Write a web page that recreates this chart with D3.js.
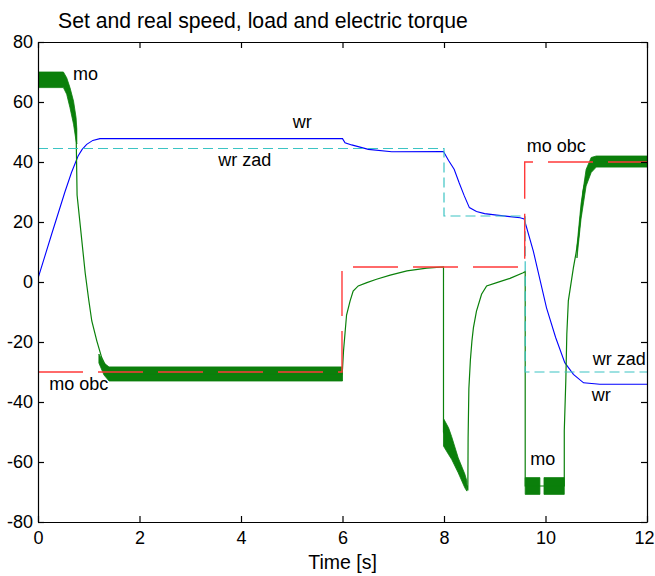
<!DOCTYPE html>
<html><head><meta charset="utf-8">
<script src="https://cdn.jsdelivr.net/npm/d3@7"></script>
<style>
body{margin:0;background:#fff;}
text{font-family:"Liberation Sans",Arial,sans-serif;fill:#000;}
</style></head>
<body><svg id="c" width="655" height="576"></svg>
<script>
// ---- data ----
const xTicks = [0, 2, 4, 6, 8, 10, 12];
const yTicks = [-80, -60, -40, -20, 0, 20, 40, 60, 80];

// set speed (wr zad)
const wrZad = [[0,44.5],[8,44.5],[8,22],[9.6,22],[9.6,-30],[12,-30]];
// real speed (wr)
const wr = [[0,1.2],[0.27,16],[0.53,30],[0.66,36.5],[0.79,42],[0.87,44.2],[0.96,45.9],[1.08,47.2],[1.22,47.8],
  [6.0,47.8],[6.05,46.4],[6.18,45.7],[6.51,44.2],[6.97,43.4],[7.99,43.5],[8.09,40.5],[8.2,37.6],[8.3,33],
  [8.4,28.7],[8.5,24.8],[8.64,23.5],[8.8,22.8],[9.04,22.3],[9.3,21.8],[9.5,21.4],[9.58,21],[9.76,10.3],
  [10.02,-8.6],[10.2,-18.5],[10.38,-26.9],[10.55,-30.8],[10.75,-33.6],[11.07,-34.1],[12,-34.1]];
// load torque (mo obc)
const moObc = [[0,-30],[5.99,-30],[5.99,5],[9.59,5],[9.59,40],[12,40]];
// electric torque (mo) - mean trace
const mo = [[0,0],[0,67],[0.5,67],[0.56,65.5],[0.63,61.5],[0.7,56.5],[0.75,51],[0.77,29],[0.85,16],[0.93,3],
  [1.0,-6],[1.06,-13],[1.16,-19.7],[1.255,-25.2],[1.35,-28.5],[1.5,-30.7],[5.99,-30.7],[6.0,-29],[6.02,-23],
  [6.05,-17],[6.08,-11],[6.15,-6.3],[6.21,-3],[6.31,-1.3],[6.48,-0.2],[6.67,0.9],[6.94,2.3],[7.27,3.7],
  [7.66,4.6],[7.99,5],[7.99,-50],[8.1,-53.5],[8.2,-58],[8.3,-62],[8.4,-66],[8.46,-68.5],[8.47,-69.5],
  [8.475,-52],[8.49,-35.6],[8.52,-26],[8.55,-19.7],[8.58,-15.2],[8.64,-9.7],[8.74,-4.1],[8.84,-1.3],
  [9.04,-0.2],[9.3,1.2],[9.56,3.1],[9.6,3.5],[9.6,-68],[10.37,-68],[10.37,-49.7],[10.4,-33],[10.42,-17.4],
  [10.45,-6.3],[10.55,4.8],[10.6,9.5],[10.65,14.8],[10.68,20.3],[10.71,24.8],[10.74,30.3],[10.8,34.8],
  [10.88,37.6],[11.0,39.8],[12,40]];
// oscillation envelopes of mo: [t, upper, lower]
const moBandA = [[0,70,64.8],[0.5,70,64.8],[0.565,68.1,62.6],[0.63,64.8,58.1],[0.7,60.3,52.6],[0.75,54.8,47],[0.765,51,46]];
const moBandB = [[1.2,-24,-27],[1.3,-27,-31],[1.4,-28.3,-33],[6.0,-28.3,-33]];
const moBandC = [[7.99,-45.5,-54.7],[8.09,-48.6,-57.5],[8.15,-51.5,-59.1],[8.28,-58.6,-63.6],[8.41,-64,-68.6],[8.45,-66.3,-69.7]];
const moBandD1 = [[9.6,-65.2,-70.8],[9.89,-65.2,-70.8]];
const moBandD2 = [[9.97,-65.2,-70.8],[10.37,-65.2,-70.8]];
const moBandE = [[10.62,12,8],[10.7,26,21],[10.8,37.5,32],[10.9,41.5,36.5],[11.0,42,38.3],[12,42,38.3]];

const labels = [
  {t:"mo", x:0.69, y:67.5},
  {t:"wr", x:5.02, y:51.2},
  {t:"wr zad", x:3.55, y:38.8},
  {t:"mo obc", x:0.22, y:-36},
  {t:"mo obc", x:9.63, y:43.4},
  {t:"wr zad", x:10.93, y:-27.7},
  {t:"wr", x:10.91, y:-39.6},
  {t:"mo", x:9.7, y:-61}
];

// ---- drawing ----
const L = 38, R = 647, T = 42, B = 522;
const svg = d3.select("#c");
const x = d3.scaleLinear().domain([0,12]).range([L,R]);
const y = d3.scaleLinear().domain([-80,80]).range([B,T]);

svg.append("defs").append("clipPath").attr("id","clip")
  .append("rect").attr("x",L).attr("y",T).attr("width",R-L).attr("height",B-T);
const g = svg.append("g").attr("clip-path","url(#clip)");

const line = d3.line().x(d=>x(d[0])).y(d=>y(d[1]));
const area = d3.area().x(d=>x(d[0])).y0(d=>y(d[2])).y1(d=>y(d[1]));

g.append("path").attr("d", line(wr)).attr("fill","none").attr("stroke","#0000ff").attr("stroke-width",1.1);
[moBandA, moBandB, moBandC, moBandD1, moBandD2, moBandE].forEach(b=>{
  g.append("path").attr("d", area(b)).attr("fill","#0b7f0b").attr("stroke","#0b7f0b").attr("stroke-width",0.8);
});
g.append("path").attr("d", line(mo)).attr("fill","none").attr("stroke","#0a800a").attr("stroke-width",1.2);
g.append("path").attr("d", line(wrZad)).attr("fill","none").attr("stroke","#3cc4c4").attr("stroke-width",1.2)
  .attr("stroke-dasharray","10,5");
g.append("path").attr("d", line(moObc)).attr("fill","none").attr("stroke","#ff3a3a").attr("stroke-width",1.4)
  .attr("stroke-dasharray","45,15");

// axes
const fs = "18px";
const fmt = d => String(d);
const ax = svg.append("g").attr("transform",`translate(0,${B})`)
  .call(d3.axisBottom(x).tickValues(xTicks).tickFormat(fmt).tickSizeInner(-6).tickSizeOuter(0).tickPadding(9));
const ay = svg.append("g").attr("transform",`translate(${L},0)`)
  .call(d3.axisLeft(y).tickValues(yTicks).tickFormat(fmt).tickSizeInner(-6).tickSizeOuter(0).tickPadding(5));
const at = svg.append("g").attr("transform",`translate(0,${T})`)
  .call(d3.axisTop(x).tickValues(xTicks).tickSizeInner(-6).tickSizeOuter(0).tickFormat(""));
const ar = svg.append("g").attr("transform",`translate(${R},0)`)
  .call(d3.axisRight(y).tickValues(yTicks).tickSizeInner(-6).tickSizeOuter(0).tickFormat(""));
[ax,ay,at,ar].forEach(a=>{
  a.selectAll("path,line").attr("stroke","#000").attr("stroke-width",1.2);
  a.selectAll("text").style("font-size",fs).style("font-family","'Liberation Sans',Arial,sans-serif").attr("fill","#000");
});
// keep the last x label inside the window
ax.selectAll(".tick text").filter(d=>d===12).attr("dx","-3px");

// in-plot labels
svg.selectAll("text.lbl").data(labels).enter().append("text").attr("class","lbl")
  .attr("x",d=>x(d.x)).attr("y",d=>y(d.y)).style("font-size","18px").text(d=>d.t);

// title and axis label
svg.append("text").attr("x",58).attr("y",28).style("font-size","21.2px")
  .text("Set and real speed, load and electric torque");
svg.append("text").attr("x",x(6)).attr("y",569).attr("text-anchor","middle").style("font-size","19.5px")
  .text("Time [s]");
</script></body></html>
